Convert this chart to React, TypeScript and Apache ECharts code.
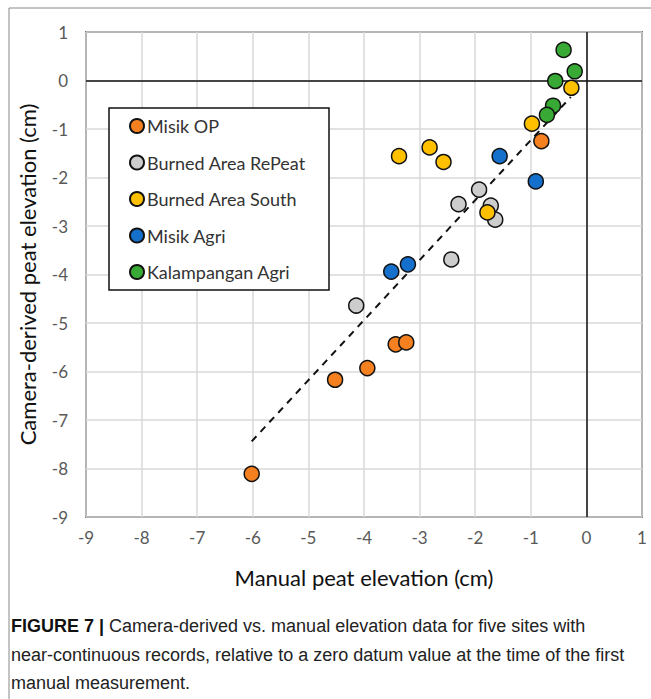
import React, { useEffect, useRef } from "react";
import * as echarts from "echarts";

const seriesNames = [
  "Misik OP",
  "Burned Area RePeat",
  "Burned Area South",
  "Misik Agri",
  "Kalampangan Agri",
];
const seriesColors = ["#F5801F", "#CDCDCD", "#FFC000", "#1570CC", "#38A935"];

const misikOPX = [-6.02, -4.52, -3.94, -3.43, -3.24, -0.81];
const misikOPY = [-8.11, -6.17, -5.93, -5.44, -5.4, -1.25];

const repeatX = [-4.14, -2.43, -2.3, -1.93, -1.72, -1.64];
const repeatY = [-4.64, -3.69, -2.55, -2.25, -2.58, -2.87];

const southX = [-3.37, -2.82, -2.57, -1.78, -0.98, -0.27];
const southY = [-1.56, -1.38, -1.68, -2.72, -0.89, -0.15];

const misikAgriX = [-3.51, -3.21, -1.56, -0.91];
const misikAgriY = [-3.94, -3.79, -1.56, -2.08];

const kalampanganX = [-0.41, -0.21, -0.56, -0.6, -0.71];
const kalampanganY = [0.63, 0.19, -0.01, -0.52, -0.71];

const trendX = [-6.02, -0.28];
const trendY = [-7.44, -0.34];

const tickMin = -9;
const tickMax = 1;

const xTitle = "Manual peat elevation (cm)";
const yTitle = "Camera-derived peat elevation (cm)";
const captionLines = [
  "{b|FIGURE 7 |} Camera-derived vs. manual elevation data for five sites with",
  "near-continuous records, relative to a zero datum value at the time of the first",
  "manual measurement.",
];

const pairs = (xs: number[], ys: number[]) => xs.map((x, i) => [x, ys[i]]);

export default function App() {
  const ref = useRef<HTMLDivElement>(null);
  useEffect(() => {
    if (!ref.current) return;
    const chart = echarts.init(ref.current, null, { renderer: "svg" });
    const allX = [misikOPX, repeatX, southX, misikAgriX, kalampanganX];
    const allY = [misikOPY, repeatY, southY, misikAgriY, kalampanganY];
    const font = "Lato, 'Open Sans', sans-serif";
    const capFont = "'Liberation Sans', Arial, sans-serif";
    const scatterSeries: any[] = seriesNames.map((name, i) => ({
      name,
      type: "scatter",
      data: pairs(allX[i], allY[i]),
      symbol: "circle",
      symbolSize: 15,
      itemStyle: {
        color: seriesColors[i],
        borderColor: "#111",
        borderWidth: 1.5,
        opacity: 1,
      },
      z: 5,
    }));
    const option: any = {
      animation: false,
      backgroundColor: "#fff",
      grid: {
        left: 86,
        top: 32,
        width: 556,
        height: 485,
        show: true,
        borderColor: "#111",
        borderWidth: 1.5,
        backgroundColor: "transparent",
      },
      xAxis: {
        type: "value",
        min: tickMin,
        max: tickMax,
        interval: 1,
        axisLine: { show: false },
        axisTick: { show: false },
        axisLabel: { color: "#595959", fontSize: 17, fontFamily: font, margin: 12 },
        splitLine: { lineStyle: { color: "#D9D9D9", width: 1.5 } },
        name: xTitle,
        nameLocation: "middle",
        nameGap: 49,
        nameTextStyle: { color: "#111", fontSize: 22, fontFamily: font },
      },
      yAxis: {
        type: "value",
        min: tickMin,
        max: tickMax,
        interval: 1,
        axisLine: { show: false },
        axisTick: { show: false },
        axisLabel: { color: "#595959", fontSize: 17, fontFamily: font, margin: 18 },
        splitLine: { lineStyle: { color: "#D9D9D9", width: 1.5 } },
        name: yTitle,
        nameLocation: "middle",
        nameGap: 48,
        nameTextStyle: { color: "#111", fontSize: 22, fontFamily: font },
      },
      legend: {
        data: seriesNames,
        orient: "vertical",
        left: 129,
        top: 117,
        itemWidth: 14,
        itemHeight: 14,
        itemGap: 18.5,
        padding: 0,
        textStyle: { color: "#333", fontSize: 18, fontFamily: font, padding: [0, 0, 0, -2] },
        z: 10,
      },
      series: [
        ...scatterSeries,
        {
          name: "trend",
          type: "line",
          data: pairs(trendX, trendY),
          symbol: "none",
          lineStyle: { color: "#111", width: 2, type: [7, 6] },
          z: 3,
          silent: true,
          markLine: {
            silent: true,
            symbol: "none",
            label: { show: false },
            lineStyle: { color: "#111", width: 1.5, type: "solid" },
            data: [{ xAxis: 0 }, { yAxis: 0 }],
          },
        },
      ],
      graphic: [
        {
          type: "rect",
          shape: { x: 9, y: 8, width: 700, height: 800 },
          style: { fill: "none", stroke: "#888", lineWidth: 1 },
          silent: true,
          z: 1,
        },
        {
          type: "rect",
          shape: { x: 109, y: 108, width: 220, height: 182 },
          style: { fill: "#fff", stroke: "#111", lineWidth: 1.5 },
          silent: true,
          z: 4,
        },
        ...captionLines.map((t, i) => ({
          type: "text",
          x: 11,
          y: 626 + i * 28.5,
          style: {
            text: t,
            fill: "#222",
            fontSize: 18,
            fontFamily: capFont,
            verticalAlign: "middle",
            rich: {
              b: {
                fontWeight: "bold",
                fontSize: 18,
                fill: "#111",
                fontFamily: capFont,
              },
            },
          },
          silent: true,
        })),
      ],
    };
    chart.setOption(option);
    return () => chart.dispose();
  }, []);
  return (
    <div
      ref={ref}
      style={{ position: "fixed", left: 0, top: 0, width: 651, height: 699 }}
    />
  );
}
